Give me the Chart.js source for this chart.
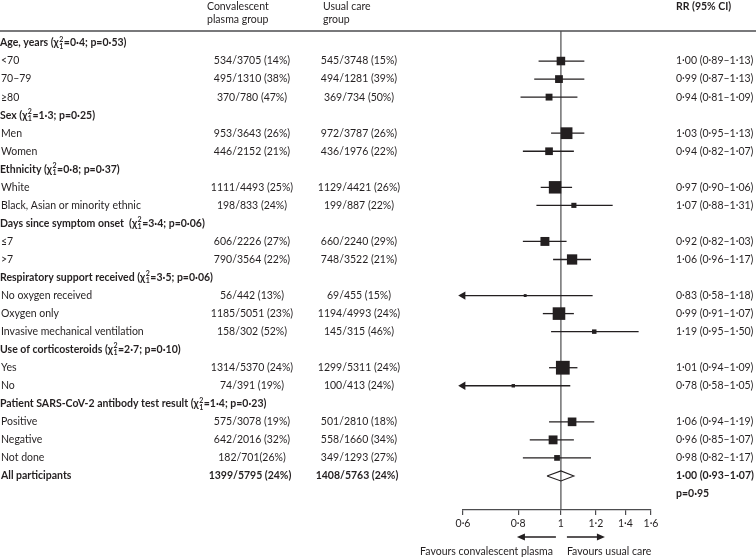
<!DOCTYPE html>
<html>
<head>
<meta charset="utf-8">
<script src="https://cdn.jsdelivr.net/npm/chart.js@4/dist/chart.umd.min.js"></script>
<style>
  body { margin: 0; background: #fff; }
</style>
</head>
<body>
<canvas id="myChart" width="756" height="558"></canvas>
<script>
// Subgroup headings with heterogeneity test
const groupNames = ['Age, years', 'Sex', 'Ethnicity', 'Days since symptom onset ', 'Respiratory support received', 'Use of corticosteroids', 'Patient SARS-CoV-2 antibody test result'];
const groupChi = ['0·4', '1·3', '0·8', '3·4', '3·5', '2·7', '1·4'];
const groupP = ['0·53', '0·25', '0·37', '0·06', '0·06', '0·10', '0·23'];
const groupSize = [3, 2, 2, 2, 3, 2, 3];

// Subgroup rows
const subgroups = ['<70', '70–79', '≥80', 'Men', 'Women', 'White', 'Black, Asian or minority ethnic', '≤7', '>7',
  'No oxygen received', 'Oxygen only', 'Invasive mechanical ventilation', 'Yes', 'No', 'Positive', 'Negative', 'Not done'];
const plasmaCounts = ['534/3705 (14%)', '495/1310 (38%)', '370/780 (47%)', '953/3643 (26%)', '446/2152 (21%)',
  '1111/4493 (25%)', '198/833 (24%)', '606/2226 (27%)', '790/3564 (22%)', '56/442 (13%)', '1185/5051 (23%)',
  '158/302 (52%)', '1314/5370 (24%)', '74/391 (19%)', '575/3078 (19%)', '642/2016 (32%)', '182/701(26%)'];
const usualCounts = ['545/3748 (15%)', '494/1281 (39%)', '369/734 (50%)', '972/3787 (26%)', '436/1976 (22%)',
  '1129/4421 (26%)', '199/887 (22%)', '660/2240 (29%)', '748/3522 (21%)', '69/455 (15%)', '1194/4993 (24%)',
  '145/315 (46%)', '1299/5311 (24%)', '100/413 (24%)', '501/2810 (18%)', '558/1660 (34%)', '349/1293 (27%)'];
const rr = [1.00, 0.99, 0.94, 1.03, 0.94, 0.97, 1.07, 0.92, 1.06, 0.83, 0.99, 1.19, 1.01, 0.78, 1.06, 0.96, 0.98];
const rrLow = [0.89, 0.87, 0.81, 0.95, 0.82, 0.90, 0.88, 0.82, 0.96, 0.58, 0.91, 0.95, 0.94, 0.58, 0.94, 0.85, 0.82];
const rrHigh = [1.13, 1.13, 1.09, 1.13, 1.07, 1.06, 1.31, 1.03, 1.17, 1.18, 1.07, 1.50, 1.09, 1.05, 1.19, 1.07, 1.17];

// Overall
const overallLabel = 'All participants';
const overallPlasma = '1399/5795 (24%)';
const overallUsual = '1408/5763 (24%)';
const overallRR = [1.00, 0.93, 1.07];
const overallP = '0·95';

const xTicks = [0.6, 0.8, 1, 1.2, 1.4, 1.6];

const ink = '#231f20';
const lineGrey = '#4d4d4f';
const fam = 'Lato, "Noto Sans", sans-serif';
const fmt = v => v.toFixed(2).replace('.', '·');

// Work out which row every item sits on
let rowOf = [];
let headRows = [];
let r = 0;
for (let g = 0; g < groupNames.length; g++) {
  headRows.push(r);
  r++;
  for (let j = 0; j < groupSize[g]; j++) {
    rowOf.push(r);
    r++;
  }
}
const overallRow = r;
const pRow = r + 1;

const xMin = xTicks[0];
const xMax = xTicks[xTicks.length - 1];
const yTop = -0.665;
const yBottom = 25.887;

// Box side from the CI width (inverse of standard error)
const boxSide = rr.map((v, i) => 0.52 * 2 * 1.96 / (Math.log(rrHigh[i]) - Math.log(rrLow[i])));

let datasets = [];
datasets.push({
  label: 'RR',
  data: rr.map((v, i) => ({x: v, y: rowOf[i]})),
  pointStyle: 'rect',
  pointRadius: boxSide.map(s => s / Math.SQRT2),
  backgroundColor: ink,
  borderWidth: 0,
  clip: false
});
datasets.push({
  label: 'clipped',
  data: rrLow.map((v, i) => v < xMin ? {x: xMin, y: rowOf[i]} : null).filter(p => p),
  pointStyle: 'triangle',
  rotation: 270,
  pointRadius: 4.8,
  backgroundColor: ink,
  borderWidth: 0,
  clip: false
});
for (let i = 0; i < rr.length; i++) {
  datasets.push({
    label: 'ci' + i,
    data: [{x: rrLow[i], y: rowOf[i]}, {x: rrHigh[i], y: rowOf[i]}],
    showLine: true,
    borderColor: ink,
    borderWidth: 1.3,
    pointRadius: 0
  });
}
const dh = 0.28;
datasets.push({
  label: 'overall',
  data: [
    {x: overallRR[1], y: overallRow}, {x: overallRR[0], y: overallRow - dh},
    {x: overallRR[2], y: overallRow}, {x: overallRR[0], y: overallRow + dh},
    {x: overallRR[1], y: overallRow}
  ],
  showLine: true,
  fill: false,
  borderColor: ink,
  borderWidth: 1.1,
  pointRadius: 0
});
datasets.push({
  label: 'ref',
  data: [{x: 1, y: yTop}, {x: 1, y: yBottom}],
  showLine: true,
  borderColor: lineGrey,
  borderWidth: 1.2,
  pointRadius: 0
});

const textPlugin = {
  id: 'forestText',
  afterDraw(chart) {
    const c = chart.ctx;
    const y = chart.scales.y;
    const x = chart.scales.x;
    const reg = '10.5px ' + fam;
    const bold = 'bold 10.5px ' + fam;
    c.save();
    c.fillStyle = ink;
    c.textBaseline = 'middle';

    // column headers
    c.font = reg;
    c.textAlign = 'left';
    c.fillText('Convalescent', 207, 7);
    c.fillText('plasma group', 207, 20);
    c.fillText('Usual care', 323, 7);
    c.fillText('group', 323, 20);
    c.font = bold;
    c.fillText('RR (95% CI)', 676, 7);

    // rule under headers
    c.strokeStyle = lineGrey;
    c.lineWidth = 1.5;
    c.beginPath();
    c.moveTo(0, chart.chartArea.top);
    c.lineTo(756, chart.chartArea.top);
    c.stroke();

    // group headings
    for (let g = 0; g < groupNames.length; g++) {
      const py = y.getPixelForValue(headRows[g]);
      let px = 0;
      c.font = bold;
      c.textAlign = 'left';
      const first = groupNames[g] + ' (χ';
      c.fillText(first, px, py);
      px += c.measureText(first).width;
      c.font = 'bold 7px ' + fam;
      c.fillText('2', px + 0.5, py - 3.5);
      c.fillText('1', px + 0.5, py + 3.5);
      px += c.measureText('2').width + 1;
      c.font = bold;
      c.fillText('=' + groupChi[g] + '; p=' + groupP[g] + ')', px, py);
    }

    // subgroup rows
    for (let i = 0; i < subgroups.length; i++) {
      const py = y.getPixelForValue(rowOf[i]);
      c.font = reg;
      c.textAlign = 'left';
      c.fillText(subgroups[i], 1, py);
      c.textAlign = 'center';
      c.fillText(plasmaCounts[i], 252, py);
      c.fillText(usualCounts[i], 359, py);
      c.textAlign = 'left';
      c.fillText(fmt(rr[i]) + ' (' + fmt(rrLow[i]) + '–' + fmt(rrHigh[i]) + ')', 676, py);
    }

    // overall row
    const oy = y.getPixelForValue(overallRow);
    c.font = bold;
    c.textAlign = 'left';
    c.fillText(overallLabel, 1, oy);
    c.textAlign = 'center';
    c.fillText(overallPlasma, 250, oy);
    c.fillText(overallUsual, 357, oy);
    c.textAlign = 'left';
    c.fillText(fmt(overallRR[0]) + ' (' + fmt(overallRR[1]) + '–' + fmt(overallRR[2]) + ')', 676, oy);
    c.fillText('p=' + overallP, 676, y.getPixelForValue(pRow));

    // favours arrows under the axis
    const x1 = x.getPixelForValue(1);
    const ay = 537;
    c.strokeStyle = ink;
    c.lineWidth = 1.3;
    c.beginPath();
    c.moveTo(x1 - 5, ay); c.lineTo(x1 - 38, ay);
    c.moveTo(x1 + 6, ay); c.lineTo(x1 + 38, ay);
    c.stroke();
    c.beginPath();
    c.moveTo(x1 - 44, ay); c.lineTo(x1 - 36, ay - 3.5); c.lineTo(x1 - 36, ay + 3.5); c.closePath();
    c.moveTo(x1 + 44, ay); c.lineTo(x1 + 36, ay - 3.5); c.lineTo(x1 + 36, ay + 3.5); c.closePath();
    c.fill();
    c.font = reg;
    c.textAlign = 'right';
    c.fillText('Favours convalescent plasma', x1 - 8, 552);
    c.textAlign = 'left';
    c.fillText('Favours usual care', x1 + 6, 552);
    c.restore();
  }
};

const ctx = document.getElementById('myChart').getContext('2d');
const myChart = new Chart(ctx, {
  type: 'scatter',
  data: { datasets: datasets },
  options: {
    responsive: false,
    animation: false,
    events: [],
    layout: { padding: { top: 31, left: 463, right: 105, bottom: 0 } },
    plugins: { legend: { display: false }, tooltip: { enabled: false } },
    scales: {
      x: {
        type: 'logarithmic',
        min: xMin,
        max: xMax,
        afterBuildTicks: s => { s.ticks = xTicks.map(v => ({value: v})); },
        afterFit: s => { s.height = 48; },
        grid: { display: true, drawOnChartArea: false, drawTicks: true, tickLength: 5, color: lineGrey, lineWidth: 1.2 },
        border: { display: true, color: lineGrey, width: 1.2 },
        ticks: {
          autoSkip: false,
          maxRotation: 0,
          padding: 2,
          color: ink,
          font: { family: fam, size: 10.5 },
          callback: v => String(v).replace('.', '·')
        }
      },
      y: {
        type: 'linear',
        display: false,
        reverse: true,
        min: yTop,
        max: yBottom
      }
    }
  },
  plugins: [textPlugin]
});
</script>
</body>
</html>
